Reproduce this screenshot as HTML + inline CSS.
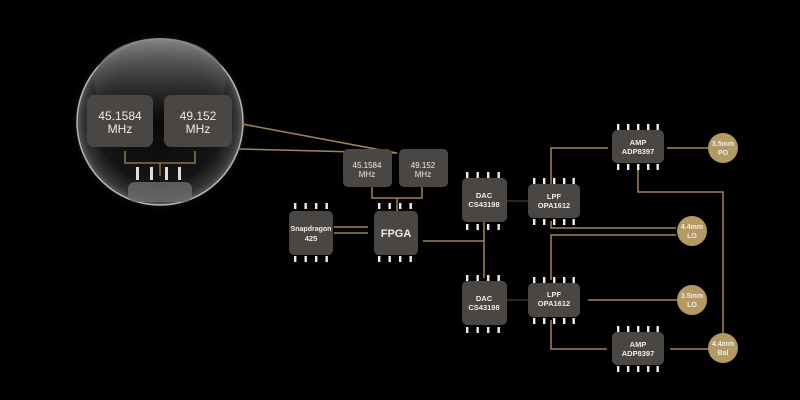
<!DOCTYPE html>
<html><head><meta charset="utf-8"><style>
html,body{margin:0;padding:0;background:#000;}
svg{display:block;}
text{font-family:"Liberation Sans",sans-serif;fill:#ececec;text-anchor:middle;}
.b{font-weight:bold;}
.n{font-weight:normal;}
</style></head><body>
<svg width="800" height="400" viewBox="0 0 800 400" xmlns="http://www.w3.org/2000/svg">
<defs>
<radialGradient id="glass" cx="0.5" cy="0.5" r="0.5">
<stop offset="0" stop-color="#080808"/>
<stop offset="0.75" stop-color="#151515"/>
<stop offset="0.93" stop-color="#363636"/>
<stop offset="1" stop-color="#5a5a5a"/>
</radialGradient>
<linearGradient id="hl" x1="0" y1="0" x2="0" y2="1">
<stop offset="0" stop-color="#8a8a8a" stop-opacity="0.9"/>
<stop offset="0.6" stop-color="#444" stop-opacity="0.5"/>
<stop offset="1" stop-color="#222" stop-opacity="0"/>
</linearGradient>
<radialGradient id="glow" cx="0.5" cy="0.5" r="0.5">
<stop offset="0.85" stop-color="#556" stop-opacity="0.35"/>
<stop offset="1" stop-color="#000" stop-opacity="0"/>
</radialGradient>
<g id="p4"><rect x="0" y="0" width="2.4" height="6" fill="#eee"/><rect x="10.5" y="0" width="2.4" height="6" fill="#eee"/><rect x="21" y="0" width="2.4" height="6" fill="#eee"/><rect x="31.5" y="0" width="2.4" height="6" fill="#eee"/></g>
<g id="p5"><rect x="0" y="0" width="2.4" height="6" fill="#eee"/><rect x="10" y="0" width="2.4" height="6" fill="#eee"/><rect x="20" y="0" width="2.4" height="6" fill="#eee"/><rect x="30" y="0" width="2.4" height="6" fill="#eee"/><rect x="39.5" y="0" width="2.4" height="6" fill="#eee"/></g>
</defs>
<rect width="800" height="400" fill="#000"/>

<!-- magnifier -->
<circle cx="160" cy="122" r="92" fill="url(#glow)"/>
<circle cx="160" cy="122" r="83" fill="url(#glass)" stroke="#b5b5b5" stroke-width="1.5"/>
<ellipse cx="160" cy="82" rx="66" ry="44" fill="url(#hl)"/>
<rect x="87" y="95" width="66" height="52" rx="7" fill="#4a4644"/>
<rect x="164" y="95" width="68" height="52" rx="7" fill="#4a4644"/>
<text class="n" x="120" y="120" font-size="12">45.1584</text>
<text class="n" x="120" y="133" font-size="12">MHz</text>
<text class="n" x="198" y="120" font-size="12">49.152</text>
<text class="n" x="198" y="133" font-size="12">MHz</text>
<path d="M125 151 V163 H195 V151 M160 163 V176" stroke="#a08552" stroke-width="1.3" fill="none"/>
<rect x="136" y="167" width="3" height="13" fill="#ddd"/><rect x="150" y="167" width="3" height="13" fill="#ddd"/><rect x="165" y="167" width="3" height="13" fill="#ddd"/><rect x="178" y="167" width="3" height="13" fill="#ddd"/>
<rect x="128" y="182" width="64" height="20" rx="7" fill="#6e6e6e" opacity="0.8"/>

<!-- connectors -->
<g stroke="#a08552" stroke-width="1.5" fill="none">
<line x1="242" y1="124" x2="397" y2="153"/>
<line x1="238" y1="149" x2="397" y2="153"/>
<path d="M372 187 V198 H422 V187 M397 198 V212"/>
<line x1="334" y1="227" x2="368" y2="227"/>
<line x1="334" y1="233" x2="368" y2="233"/>
<path d="M423 241 H484 M484 222 V278"/>
<path d="M551 184 V148 H608 M667 148 H708"/>
<path d="M638 168 V192 H723 V333"/>
<path d="M551 221 V228 H676 M676 235 H551 V280"/>
<path d="M588 300 H677"/>
<path d="M551 320 V349 H607 M670 349 H708"/>
</g>
<g stroke="#333" stroke-width="1.5"><line x1="507" y1="201" x2="528" y2="201"/><line x1="507" y1="300" x2="528" y2="300"/></g>

<!-- small crystals -->
<rect x="343" y="149" width="49" height="38" rx="5" fill="#4a4644"/>
<rect x="399" y="149" width="49" height="38" rx="5" fill="#4a4644"/>
<text class="n" x="367" y="168" font-size="8">45.1584</text>
<text class="n" x="367" y="177" font-size="8">MHz</text>
<text class="n" x="423" y="168" font-size="8">49.152</text>
<text class="n" x="423" y="177" font-size="8">MHz</text>

<!-- snapdragon -->
<use href="#p4" x="294" y="203"/><use href="#p4" x="294" y="256"/>
<rect x="289" y="211" width="44" height="44" rx="5" fill="#4a4644"/>
<text class="b" x="311" y="231" font-size="7">Snapdragon</text>
<text class="b" x="311" y="241" font-size="7.5">425</text>
<!-- FPGA -->
<use href="#p4" x="378" y="203"/><use href="#p4" x="378" y="256"/>
<rect x="374" y="211" width="44" height="44" rx="5" fill="#4a4644"/>
<text class="b" x="396" y="237" font-size="11">FPGA</text>

<!-- DACs -->
<use href="#p4" x="466" y="172"/><use href="#p4" x="466" y="224"/>
<rect x="462" y="178" width="45" height="44" rx="5" fill="#4a4644"/>
<text class="b" x="484" y="198" font-size="7.5">DAC</text><text class="b" x="484" y="207" font-size="7.5">CS43198</text>
<use href="#p4" x="466" y="275"/><use href="#p4" x="466" y="327"/>
<rect x="462" y="281" width="45" height="44" rx="5" fill="#4a4644"/>
<text class="b" x="484" y="301" font-size="7.5">DAC</text><text class="b" x="484" y="310" font-size="7.5">CS43198</text>

<!-- LPFs -->
<use href="#p5" x="533" y="178"/><use href="#p5" x="533" y="219"/>
<rect x="528" y="184" width="52" height="34" rx="5" fill="#4a4644"/>
<text class="b" x="554" y="199" font-size="7.5">LPF</text><text class="b" x="554" y="208" font-size="7.5">OPA1612</text>
<use href="#p5" x="533" y="277"/><use href="#p5" x="533" y="318"/>
<rect x="528" y="283" width="52" height="34" rx="5" fill="#4a4644"/>
<text class="b" x="554" y="297" font-size="7.5">LPF</text><text class="b" x="554" y="306" font-size="7.5">OPA1612</text>

<!-- AMPs -->
<use href="#p5" x="617" y="124"/><use href="#p5" x="617" y="164"/>
<rect x="612" y="130" width="52" height="33" rx="5" fill="#4a4644"/>
<text class="b" x="638" y="145" font-size="7.5">AMP</text><text class="b" x="638" y="154" font-size="7.5">ADP8397</text>
<use href="#p5" x="617" y="326"/><use href="#p5" x="617" y="366"/>
<rect x="612" y="332" width="52" height="33" rx="5" fill="#4a4644"/>
<text class="b" x="638" y="347" font-size="7.5">AMP</text><text class="b" x="638" y="356" font-size="7.5">ADP8397</text>

<!-- jacks -->
<g fill="#b39a62">
<circle cx="723" cy="148" r="15"/><circle cx="692" cy="231" r="15"/><circle cx="692" cy="300" r="15"/><circle cx="723" cy="348" r="15"/>
</g>
<text class="b" x="723" y="146" font-size="7">3.5mm</text><text class="b" x="723" y="155" font-size="7">PO</text>
<text class="b" x="692" y="229" font-size="7">4.4mm</text><text class="b" x="692" y="238" font-size="7">LO</text>
<text class="b" x="692" y="298" font-size="7">3.5mm</text><text class="b" x="692" y="307" font-size="7">LO</text>
<text class="b" x="723" y="346" font-size="7">4.4mm</text><text class="b" x="723" y="355" font-size="7">Bal</text>
</svg>
</body></html>
